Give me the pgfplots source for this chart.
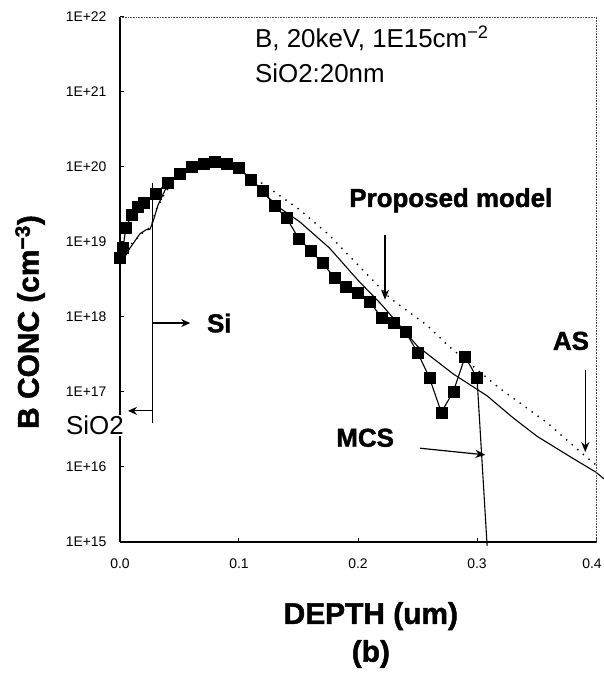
\documentclass[border=0pt]{standalone}
\usepackage{fontspec}
\setmainfont{Liberation Sans}[BoldFeatures={FakeBold=1.5}]
\usepackage{pgfplots}
\pgfplotsset{compat=1.18}
\usetikzlibrary{arrows.meta}
\begin{document}
\begin{tikzpicture}
\useasboundingbox (-120bp,-138bp) rectangle (484bp,542bp);
\begin{axis}[
  at={(0,0)}, anchor=south west,
  scale only axis, width=476bp, height=525bp,
  xmin=0, xmax=0.4, ymin=1e15, ymax=1e22, ymode=log,
  axis x line*=bottom, axis y line*=left,
  axis line style={line width=1.4bp},
  xtick={0,0.1,0.2,0.3,0.4}, xticklabels={0.0,0.1,0.2,0.3,\hspace*{-8bp}0.4},
  ytick={1e15,1e16,1e17,1e18,1e19,1e20,1e21,1e22},
  yticklabels={1E+15,1E+16,1E+17,1E+18,1E+19,1E+20,1E+21,1E+22},
  yminorticks=false, xminorticks=false,
  tick align=inside, major tick length=4bp, tick style={line width=1bp, black},
  ticklabel style={font=\fontsize{14}{16}\selectfont},
  xticklabel style={yshift=-13bp},
  yticklabel style={xshift=-10bp},
  xlabel={DEPTH (um)\\(b)},
  xlabel style={at={(axis description cs:0.527,0)}, anchor=north, yshift=-60bp, align=center, font=\fontsize{30}{38}\selectfont\bfseries, inner sep=0pt},
  ylabel={B CONC (cm\textsuperscript{−3})},
  ylabel style={at={(axis description cs:-0.189,0.419)}, anchor=center, font=\fontsize{30}{36}\selectfont\bfseries, inner sep=0pt},
  clip=false,
]
% MCS connecting line
\addplot[black, line width=1.1bp] coordinates {
(0.000,6.17e18) (0.0025,8.32e18) (0.005,1.55e19) (0.010,2.34e19) (0.015,2.95e19)
(0.020,3.39e19) (0.030,4.47e19) (0.04,6.17e19) (0.05,8.13e19) (0.06,1.02e20)
(0.07,1.12e20) (0.08,1.17e20) (0.09,1.10e20) (0.10,9.77e19) (0.11,6.76e19)
(0.12,4.90e19) (0.13,3.02e19) (0.14,2.09e19) (0.15,1.12e19) (0.16,7.76e18)
(0.17,5.25e18) (0.18,3.39e18) (0.19,2.51e18) (0.20,2.14e18) (0.21,1.58e18)
(0.22,9.77e17) (0.23,8.51e17) (0.24,6.31e17) (0.25,3.39e17) (0.26,1.55e17)
(0.27,5.37e16) (0.28,1.00e17) (0.29,2.95e17) (0.30,1.55e17) (0.3085,8.9e14)
};
% MCS squares
\addplot[only marks, mark=square*, mark size=5.5bp, black] coordinates {
(0.000,6.17e18) (0.0025,8.32e18) (0.005,1.55e19) (0.010,2.34e19) (0.015,2.95e19)
(0.020,3.39e19) (0.030,4.47e19) (0.04,6.17e19) (0.05,8.13e19) (0.06,1.02e20)
(0.07,1.12e20) (0.08,1.17e20) (0.09,1.10e20) (0.10,9.77e19) (0.11,6.76e19)
(0.12,4.90e19) (0.13,3.02e19) (0.14,2.09e19) (0.15,1.12e19) (0.16,7.76e18)
(0.17,5.25e18) (0.18,3.39e18) (0.19,2.51e18) (0.20,2.14e18) (0.21,1.58e18)
(0.22,9.77e17) (0.23,8.51e17) (0.24,6.31e17) (0.25,3.39e17) (0.26,1.55e17)
(0.27,5.37e16) (0.28,1.00e17) (0.29,2.95e17) (0.30,1.55e17)
};
% Proposed model (solid)
\addplot[black, line width=1.1bp] coordinates {
(0,4.90e18) (0.0084,8.32e18) (0.0168,1.29e19) (0.0218,1.45e19) (0.0252,1.48e19)
(0.0277,1.86e19) (0.0319,3.09e19) (0.0378,4.90e19) (0.048,7.76e19) (0.0588,1.02e20)
(0.0714,1.17e20) (0.084,1.17e20) (0.099,9.77e19) (0.111,6.76e19) (0.1235,4.07e19)
(0.1345,2.82e19) (0.151,1.86e19) (0.176,8.32e18) (0.2,3.09e18) (0.22,1.45e18)
(0.25,4.07e17) (0.28,1.74e17) (0.3084,8.91e16) (0.33,4.57e16) (0.3504,2.57e16)
(0.38,1.32e16) (0.4,8.51e15) (0.4076,6.76e15)
};
% AS (dotted)
\addplot[black, line width=1.4bp, dash pattern=on 1.4bp off 6bp] coordinates {
(0,5.25e18) (0.01,9.55e18) (0.02,1.38e19) (0.026,1.58e19) (0.03,2.63e19)
(0.038,4.57e19) (0.048,7.59e19) (0.0588,1.02e20) (0.0714,1.17e20) (0.084,1.20e20)
(0.099,1.00e20) (0.111,7.41e19) (0.126,5.13e19) (0.151,2.69e19) (0.176,1.23e19)
(0.196,5.75e18) (0.227,1.78e18) (0.258,7.76e17) (0.277,3.98e17) (0.319,1.12e17)
(0.359,3.89e16) (0.392,1.35e16) (0.403,9.77e15)
};
% top/right dotted frame
\draw[densely dotted, line width=0.6bp, black!70] (rel axis cs:0,1) -- (rel axis cs:1,1) -- (rel axis cs:1,0);
% SiO2 / Si boundary and arrows
\draw[line width=1.2bp] (axis cs:0.027,6.2e19) -- (axis cs:0.027,3.9e16);
\draw[-{Stealth[length=9bp,width=8bp]}, line width=1.2bp] (axis cs:0.027,8.3e17) -- (axis cs:0.059,8.3e17);
\node[anchor=west, inner sep=0pt, font=\fontsize{26}{30}\selectfont\bfseries] at (axis cs:0.073,8.3e17) {Si};
\draw[-{Stealth[length=9bp,width=8bp]}, line width=1.2bp] (axis cs:0.027,5.6e16) -- (axis cs:0.0067,5.6e16);
\coordinate (sio) at (axis cs:0.0042,3.6e16);
% Proposed model
\draw[-{Stealth[length=10bp,width=8bp]}, line width=1.2bp] (axis cs:0.2227,1.23e19) -- (axis cs:0.2227,1.7e18);
\node[inner sep=0pt, font=\fontsize{26}{30}\selectfont\bfseries] at (axis cs:0.278,3.6e19) {Proposed model};
% AS
\node[inner sep=0pt, font=\fontsize{26}{30}\selectfont\bfseries] at (axis cs:0.379,4.8e17) {AS};
\draw[-{Stealth[length=10bp,width=8bp]}, line width=1.2bp] (axis cs:0.391,1.95e17) -- (axis cs:0.391,1.58e16);
% MCS
\node[inner sep=0pt, font=\fontsize{26}{30}\selectfont\bfseries] at (axis cs:0.206,2.45e16) {MCS};
\draw[-{Stealth[length=10bp,width=8bp]}, line width=1.2bp] (axis cs:0.252,1.78e16) -- (axis cs:0.307,1.45e16);
% conditions
\node[anchor=base west, inner sep=0pt, font=\fontsize{26}{30}\selectfont] at (axis cs:0.1134,3.9e21) {B, 20keV, 1E15cm\textsuperscript{−2}};
\node[anchor=base west, inner sep=0pt, font=\fontsize{26}{30}\selectfont] at (axis cs:0.1134,1.32e21) {SiO2:20nm};
\end{axis}
\node[anchor=east, fill=white, inner sep=1bp, font=\fontsize{26}{30}\selectfont] at (sio) {SiO2};
\end{tikzpicture}
\end{document}
